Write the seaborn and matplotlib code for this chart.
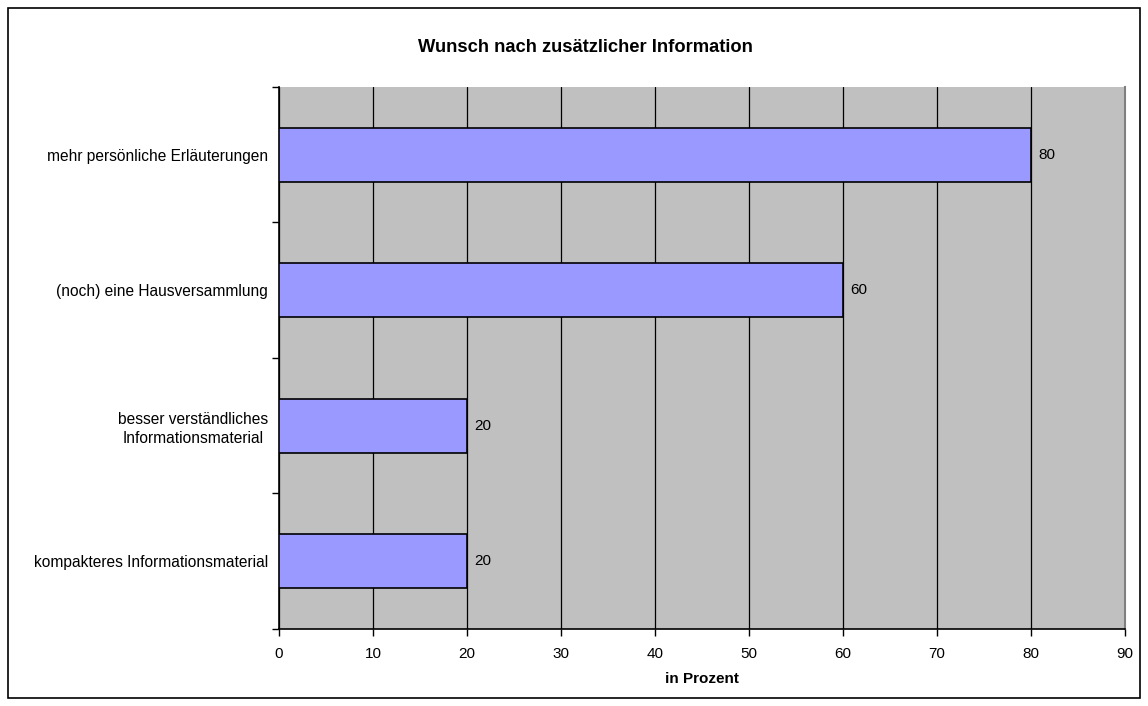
import matplotlib
matplotlib.use("Agg")
import matplotlib.pyplot as plt
import seaborn as sns
import pandas as pd
from matplotlib.patches import Rectangle

# data
categories = ["mehr persönliche Erläuterungen",
              "(noch) eine Hausversammlung",
              "besser verständliches\nInformationsmaterial",
              "kompakteres Informationsmaterial"]
values = [80, 60, 20, 20]
xticks = [0, 10, 20, 30, 40, 50, 60, 70, 80, 90]

title = "Wunsch nach zusätzlicher Information"
xlabel = "in Prozent"

sns.set_style("white")
plt.rcParams['font.family'] = ['Liberation Sans', 'DejaVu Sans']
plt.rcParams['text.color'] = 'black'
plt.rcParams['xtick.color'] = 'black'
plt.rcParams['ytick.color'] = 'black'
plt.rcParams['axes.labelcolor'] = 'black'

df = pd.DataFrame({"cat": categories, "val": values})

fig = plt.figure(figsize=(11.48, 7.06), dpi=100)
ax = fig.add_axes([0.243, 0.109, 0.737, 0.768])
ax.set_facecolor("#C0C0C0")

sns.barplot(data=df, x="val", y="cat", orient="h", color="#9999FF",
            saturation=1, edgecolor="black", linewidth=1.2, width=0.4,
            ax=ax, zorder=3)

ax.set_xlim(0, 90)
ax.set_ylim(3.5, -0.5)
ax.set_xticks(xticks)
ax.set_xticklabels([str(t) for t in xticks], fontsize=11)
ax.tick_params(axis="x", bottom=True, direction="out", length=5, width=1,
               color="black", pad=8)

# category labels at bar centres, tick marks between categories
ax.set_yticks(range(len(categories)))
ax.set_yticklabels(categories, fontsize=11.2, multialignment="center",
                   linespacing=1.35)
ax.tick_params(axis="y", which="major", left=True, length=0, pad=8)
ax.set_yticks([i - 0.5 for i in range(len(categories) + 1)], minor=True)
ax.tick_params(axis="y", which="minor", left=True, direction="out",
               length=5, width=1, color="black")

ax.grid(axis="x", color="black", linewidth=0.9, zorder=1)
ax.grid(axis="y", visible=False)
ax.set_axisbelow(True)

for c in ax.containers:
    ax.bar_label(c, labels=[str(v) for v in values], padding=5, fontsize=11)

for side in ["left", "bottom"]:
    ax.spines[side].set_color("black")
    ax.spines[side].set_linewidth(1.2)
ax.spines["top"].set_visible(False)
ax.spines["right"].set_color("#808080")
ax.spines["right"].set_linewidth(1.5)

ax.set_ylabel("")
ax.set_xlabel(xlabel, fontsize=11, fontweight="bold", labelpad=8)

fig.text(0.51, 0.933, title, ha="center", va="center",
         fontsize=13.2, fontweight="bold")

fig.patches.append(Rectangle((8 / 1148, 8 / 706), 1 - 16 / 1148, 1 - 16 / 706,
                             transform=fig.transFigure, fill=False,
                             edgecolor="black", linewidth=1.2))

fig.savefig("out.png", dpi=100)
